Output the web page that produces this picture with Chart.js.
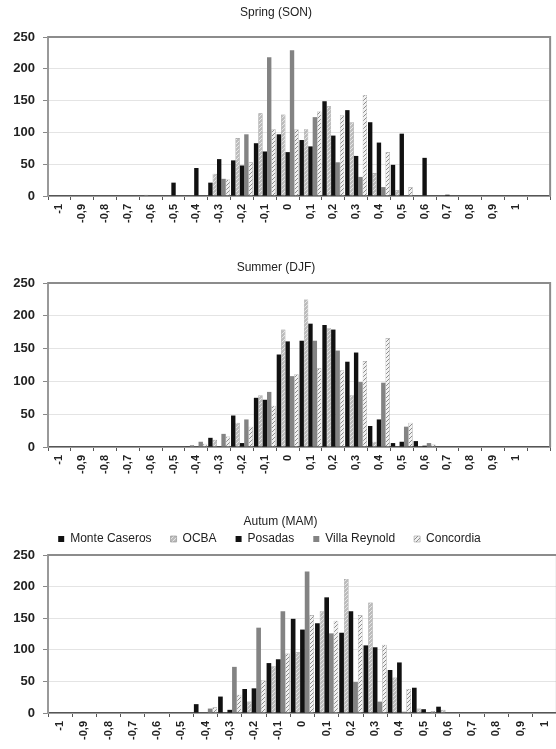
<!DOCTYPE html>
<html>
<head>
<meta charset="UTF-8">
<title>Spring / Summer / Autum</title>
<script src="https://cdn.jsdelivr.net/npm/chart.js"></script>
<style>
  html, body { margin: 0; padding: 0; background: #fff; overflow: hidden; }
  body { width: 556px; height: 749px; position: relative; }
  canvas { position: absolute; left: 0; }
</style>
</head>
<body>
<canvas id="spring" width="556" height="240" style="top:0px"></canvas>
<canvas id="summer" width="556" height="250" style="top:240px"></canvas>
<canvas id="autumn" width="562" height="259" style="top:490px"></canvas>

<script>
// station names (legend order)
const stations = ['Monte Caseros', 'OCBA', 'Posadas', 'Villa Reynold', 'Concordia'];

// x categories
const xLabels = ['-1', '-0,9', '-0,8', '-0,7', '-0,6', '-0,5', '-0,4', '-0,3', '-0,2', '-0,1', '0',
                 '0,1', '0,2', '0,3', '0,4', '0,5', '0,6', '0,7', '0,8', '0,9', '1'];
const xLabelsWide = xLabels.concat(['']);

// Spring (SON)
const springMonteCaseros = [0,0,0,0,0,0,0,21,56,83,97,88,149,135,116,49,0,0,0,0,0,0];
const springOCBA         = [0,0,0,0,2,0,1,35,91,130,128,105,141,116,36,9,0,0,0,0,0,0];
const springPosadas      = [0,0,0,0,0,21,44,58,48,70,69,78,95,63,84,98,60,2,0,0,0,0];
const springVillaReynold = [0,0,0,0,0,0,0,27,97,218,229,124,53,30,14,0,0,0,0,0,0,0];
const springConcordia    = [0,0,0,0,0,0,0,26,53,105,105,133,127,159,69,14,0,0,0,0,0,0];

// Summer (DJF)
const summerMonteCaseros = [0,0,0,0,0,0,1,14,48,75,141,162,186,130,32,6,9,0,0,0,0,0];
const summerOCBA         = [0,0,0,0,0,0,3,11,37,79,179,225,181,79,8,0,0,0,0,0,0,0];
const summerPosadas      = [0,0,0,0,0,0,0,1,6,72,161,188,179,144,42,8,2,0,0,0,0,0];
const summerVillaReynold = [0,0,0,0,0,0,8,20,42,84,108,162,147,99,98,31,6,0,0,0,0,0];
const summerConcordia    = [0,0,0,0,0,0,5,16,31,63,111,120,117,131,166,37,4,0,0,0,0,0];

// Autum (MAM)
const autumnMonteCaseros = [0,0,0,0,0,0,14,26,38,79,149,142,127,107,68,40,10,0,0,0,0];
const autumnOCBA         = [0,0,0,0,0,0,0,0,18,74,96,161,212,175,56,7,5,0,0,0,0];
const autumnPosadas      = [0,0,0,0,0,0,0,5,39,85,132,183,161,104,80,6,0,0,0,0,0];
const autumnVillaReynold = [0,0,0,0,0,0,7,73,135,161,224,126,49,18,2,0,0,0,0,0,0];
const autumnConcordia    = [0,0,0,0,0,0,9,29,52,94,155,146,155,108,38,3,0,0,0,0,0];

Chart.defaults.font.family = "'Liberation Sans', Arial, sans-serif";

// small diagonal hatch fill
function hatch(bg, fg) {
    const c = document.createElement('canvas');
    c.width = 4; c.height = 4;
    const g = c.getContext('2d');
    g.fillStyle = bg;
    g.fillRect(0, 0, 4, 4);
    g.strokeStyle = fg;
    g.lineWidth = 1;
    g.beginPath();
    g.moveTo(-1, 5); g.lineTo(5, -1);
    g.moveTo(3, 5); g.lineTo(5, 3);
    g.moveTo(-1, 1); g.lineTo(1, -1);
    g.stroke();
    return g.createPattern(c, 'repeat');
}

const styles = [
    { backgroundColor: '#111111', borderWidth: 0 },
    { backgroundColor: hatch('#bcbcbc', '#e6e6e6'), borderColor: '#8a8a8a', borderWidth: 0.6 },
    { backgroundColor: '#111111', borderWidth: 0 },
    { backgroundColor: '#838383', borderWidth: 0 },
    { backgroundColor: hatch('#f2f2f2', '#8c8c8c'), borderColor: '#9a9a9a', borderWidth: 0.6 }
];

// grey frame on top and right of the plot area
const frame = {
    id: 'frame',
    afterDraw(chart) {
        const { ctx, chartArea: a } = chart;
        ctx.save();
        ctx.strokeStyle = '#8c8c8c';
        ctx.lineWidth = 2;
        ctx.beginPath();
        ctx.moveTo(a.left, a.top);
        ctx.lineTo(a.right, a.top);
        ctx.lineTo(a.right, a.bottom);
        ctx.stroke();
        ctx.restore();
    }
};

// legend sits a bit left of the centre in the original
const legendNudge = {
    id: 'legendNudge',
    afterLayout(chart) {
        if (chart.legend && chart.legend.options.display) {
            chart.legend.left -= 11;
            chart.legend.right -= 11;
        }
    }
};

function drawPanel(id, title, labels, series, o) {
    new Chart(document.getElementById(id), {
        type: 'bar',
        data: {
            labels: labels,
            datasets: series.map((d, i) => Object.assign({ label: stations[i], data: d }, styles[i]))
        },
        options: {
            responsive: false,
            animation: false,
            layout: { padding: { left: 0, right: o.right, top: 0, bottom: 0 } },
            datasets: { bar: { categoryPercentage: 0.96, barPercentage: 1 } },
            plugins: {
                title: {
                    display: true, text: title, color: '#222',
                    font: { size: 12, weight: 'normal' },
                    padding: o.titlePad
                },
                legend: o.legend ? {
                    display: true, position: 'top',
                    labels: { boxWidth: 6, boxHeight: 6, padding: 19, color: '#222', font: { size: 12 } }
                } : { display: false },
                tooltip: { enabled: false }
            },
            scales: {
                x: {
                    grid: { offset: true, drawOnChartArea: false, tickLength: 4, color: '#555', tickColor: '#555' },
                    border: { color: '#555', width: 1.5 },
                    ticks: { autoSkip: false, minRotation: 90, maxRotation: 90, padding: 4,
                             color: '#222', font: { size: 11, weight: 'bold' } },
                    afterFit: s => { s.height = o.xh; }
                },
                y: {
                    min: 0, max: 250,
                    ticks: { stepSize: 50, padding: 8, color: '#222', font: { size: 13, weight: 'bold' } },
                    grid: { color: '#e4e4e4', tickLength: 5, tickColor: '#888' },
                    border: { color: '#999', width: 2 },
                    afterFit: s => { s.width = 48; }
                }
            }
        },
        plugins: [frame, legendNudge]
    });
}

drawPanel('spring', 'Spring (SON)', xLabelsWide,
    [springMonteCaseros, springOCBA, springPosadas, springVillaReynold, springConcordia],
    { right: 4, xh: 44, titlePad: { top: 5.8, bottom: 16.8 }, legend: false });

drawPanel('summer', 'Summer (DJF)', xLabelsWide,
    [summerMonteCaseros, summerOCBA, summerPosadas, summerVillaReynold, summerConcordia],
    { right: 4, xh: 43, titlePad: { top: 20.8, bottom: 7.8 }, legend: false });

drawPanel('autumn', 'Autum (MAM)', xLabels,
    [autumnMonteCaseros, autumnOCBA, autumnPosadas, autumnVillaReynold, autumnConcordia],
    { right: 1, xh: 36, titlePad: { top: 24.5, bottom: -14.9 }, legend: true });
</script>
</body>
</html>
